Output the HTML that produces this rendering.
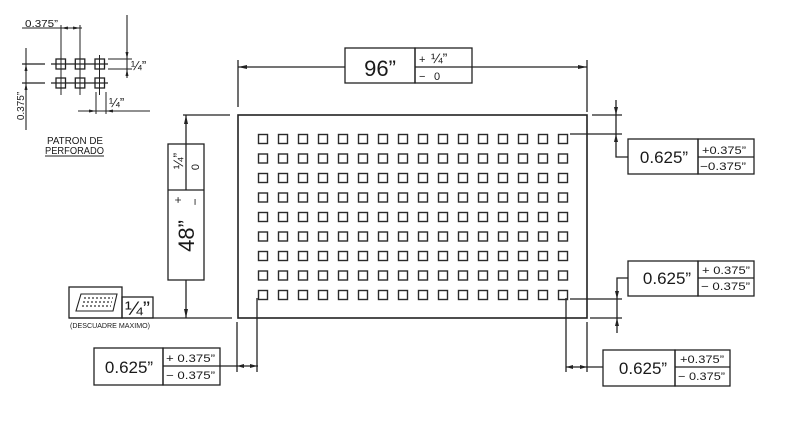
<!DOCTYPE html>
<html><head><meta charset="utf-8"><style>
html,body{margin:0;padding:0;background:#fff;}
svg{display:block;}
text{font-family:"Liberation Sans",sans-serif;fill:#1a1a1a;}
</style></head><body>
<svg width="800" height="446" viewBox="0 0 800 446" xmlns="http://www.w3.org/2000/svg">
<rect width="800" height="446" fill="#fff"/>
<g stroke="#222" stroke-width="1.3" fill="none">
<rect x="238" y="115" width="349" height="203" stroke-width="1.6"/>
<line x1="238" y1="60" x2="238" y2="107"/>
<line x1="587" y1="60" x2="587" y2="112"/>
<line x1="238" y1="67" x2="345" y2="67"/>
<line x1="472" y1="67" x2="587" y2="67"/>
<rect x="345" y="48" width="70" height="35"/>
<rect x="415" y="48" width="57" height="35"/>
<line x1="415" y1="67" x2="472" y2="67"/>
<line x1="183" y1="115" x2="230" y2="115"/>
<line x1="69" y1="318" x2="232" y2="318"/>
<line x1="186" y1="115" x2="186" y2="144"/>
<line x1="186" y1="280" x2="186" y2="318"/>
<rect x="168" y="144" width="36" height="136"/>
<line x1="168" y1="190" x2="204" y2="190"/>
<line x1="186" y1="144" x2="186" y2="190"/>
<line x1="592" y1="115" x2="622" y2="115"/>
<line x1="570" y1="134" x2="622" y2="134"/>
<polyline points="616,100 616,157 628,157"/>
<rect x="628" y="139" width="70" height="35"/>
<rect x="698" y="139" width="56" height="35"/>
<line x1="698" y1="157" x2="754" y2="157"/>
<line x1="570" y1="299" x2="622" y2="299"/>
<line x1="590" y1="318" x2="622" y2="318"/>
<polyline points="628,278 617,278 617,333"/>
<rect x="628" y="261" width="70" height="35"/>
<rect x="698" y="261" width="56" height="35"/>
<line x1="698" y1="278" x2="754" y2="278"/>
<line x1="237" y1="322" x2="237" y2="372"/>
<line x1="257" y1="298" x2="257" y2="372"/>
<line x1="220" y1="366" x2="258" y2="366"/>
<rect x="94" y="348" width="69" height="37"/>
<rect x="163" y="348" width="57" height="37"/>
<line x1="163" y1="366" x2="220" y2="366"/>
<line x1="566" y1="298" x2="566" y2="372"/>
<line x1="587" y1="322" x2="587" y2="372"/>
<line x1="566" y1="367" x2="603" y2="367"/>
<rect x="603" y="350" width="72" height="36"/>
<rect x="675" y="350" width="55" height="36"/>
<line x1="675" y1="367" x2="730" y2="367"/>
<rect x="69" y="287" width="53" height="31"/>
<rect x="122" y="297" width="31" height="21"/>
<polygon points="81,294 117,294 113,311 76,311" stroke-width="1.1"/>
<line x1="22" y1="28" x2="82" y2="28" stroke-width="1.1"/>
<line x1="61" y1="25" x2="61" y2="95" stroke-width="1"/>
<line x1="80" y1="25" x2="80" y2="95" stroke-width="1"/>
<line x1="99.5" y1="55" x2="99.5" y2="95" stroke-width="1"/>
<line x1="22" y1="64" x2="45" y2="64"/>
<line x1="51" y1="64" x2="108" y2="64"/>
<line x1="22" y1="83" x2="45" y2="83"/>
<line x1="51" y1="83" x2="108" y2="83"/>
<line x1="26" y1="48" x2="26" y2="130" stroke-width="1.1"/>
<line x1="108" y1="59" x2="132" y2="59" stroke-width="1"/>
<line x1="108" y1="69" x2="132" y2="69" stroke-width="1"/>
<line x1="127" y1="15" x2="127" y2="78" stroke-width="1.1"/>
<line x1="78" y1="111" x2="150" y2="111" stroke-width="1.1"/>
<line x1="96" y1="92" x2="96" y2="114" stroke-width="1"/>
<line x1="106" y1="92" x2="106" y2="114" stroke-width="1"/>
<line x1="45" y1="156" x2="104" y2="156" stroke-width="1"/>
<g stroke-width="1.3">
<rect x="56" y="59" width="9.5" height="10"/>
<rect x="75.3" y="59" width="9.5" height="10"/>
<rect x="95" y="59" width="9.5" height="10"/>
<rect x="56" y="78" width="9.5" height="10"/>
<rect x="75.3" y="78" width="9.5" height="10"/>
<rect x="95" y="78" width="9.5" height="10"/>
</g>
</g>
<g fill="#222">
<polygon points="238,67 247,65 247,69"/>
<polygon points="587,67 578,65 578,69"/>
<polygon points="186,115 184,124 188,124"/>
<polygon points="186,318 184,309 188,309"/>
<polygon points="616,115 614,107 618,107"/>
<polygon points="616,134 614,142 618,142"/>
<polygon points="617,299 615,291 619,291"/>
<polygon points="617,318 615,326 619,326"/>
<polygon points="237,366 244,364 244,368"/>
<polygon points="257,366 250,364 250,368"/>
<polygon points="566,367 573,365 573,369"/>
<polygon points="587,367 580,365 580,369"/>
<polygon points="61,28 68,26.5 68,29.5"/>
<polygon points="80,28 73,26.5 73,29.5"/>
<polygon points="26,64 24.5,71 27.5,71"/>
<polygon points="26,83 24.5,90 27.5,90"/>
<polygon points="127,59 125.5,52 128.5,52"/>
<polygon points="127,69 125.5,76 128.5,76"/>
<polygon points="96,111 89,109.5 89,112.5"/>
<polygon points="106,111 113,109.5 113,112.5"/>
</g>
<g stroke="#333" stroke-width="1.2" stroke-dasharray="2,2">
<line x1="84" y1="298" x2="113" y2="298"/>
<line x1="83" y1="302" x2="112" y2="302"/>
<line x1="82" y1="306" x2="111" y2="306"/>
</g>
<g stroke="#2a2a2a" stroke-width="1.4" fill="none">
<rect x="258.5" y="134.5" width="9" height="9"/><rect x="278.5" y="134.5" width="9" height="9"/><rect x="298.5" y="134.5" width="9" height="9"/><rect x="318.5" y="134.5" width="9" height="9"/><rect x="338.5" y="134.5" width="9" height="9"/><rect x="358.5" y="134.5" width="9" height="9"/><rect x="378.5" y="134.5" width="9" height="9"/><rect x="398.5" y="134.5" width="9" height="9"/><rect x="418.5" y="134.5" width="9" height="9"/><rect x="438.5" y="134.5" width="9" height="9"/><rect x="458.5" y="134.5" width="9" height="9"/><rect x="478.5" y="134.5" width="9" height="9"/><rect x="498.5" y="134.5" width="9" height="9"/><rect x="518.5" y="134.5" width="9" height="9"/><rect x="538.5" y="134.5" width="9" height="9"/><rect x="558.5" y="134.5" width="9" height="9"/>
<rect x="258.5" y="154" width="9" height="9"/><rect x="278.5" y="154" width="9" height="9"/><rect x="298.5" y="154" width="9" height="9"/><rect x="318.5" y="154" width="9" height="9"/><rect x="338.5" y="154" width="9" height="9"/><rect x="358.5" y="154" width="9" height="9"/><rect x="378.5" y="154" width="9" height="9"/><rect x="398.5" y="154" width="9" height="9"/><rect x="418.5" y="154" width="9" height="9"/><rect x="438.5" y="154" width="9" height="9"/><rect x="458.5" y="154" width="9" height="9"/><rect x="478.5" y="154" width="9" height="9"/><rect x="498.5" y="154" width="9" height="9"/><rect x="518.5" y="154" width="9" height="9"/><rect x="538.5" y="154" width="9" height="9"/><rect x="558.5" y="154" width="9" height="9"/>
<rect x="258.5" y="173.5" width="9" height="9"/><rect x="278.5" y="173.5" width="9" height="9"/><rect x="298.5" y="173.5" width="9" height="9"/><rect x="318.5" y="173.5" width="9" height="9"/><rect x="338.5" y="173.5" width="9" height="9"/><rect x="358.5" y="173.5" width="9" height="9"/><rect x="378.5" y="173.5" width="9" height="9"/><rect x="398.5" y="173.5" width="9" height="9"/><rect x="418.5" y="173.5" width="9" height="9"/><rect x="438.5" y="173.5" width="9" height="9"/><rect x="458.5" y="173.5" width="9" height="9"/><rect x="478.5" y="173.5" width="9" height="9"/><rect x="498.5" y="173.5" width="9" height="9"/><rect x="518.5" y="173.5" width="9" height="9"/><rect x="538.5" y="173.5" width="9" height="9"/><rect x="558.5" y="173.5" width="9" height="9"/>
<rect x="258.5" y="193" width="9" height="9"/><rect x="278.5" y="193" width="9" height="9"/><rect x="298.5" y="193" width="9" height="9"/><rect x="318.5" y="193" width="9" height="9"/><rect x="338.5" y="193" width="9" height="9"/><rect x="358.5" y="193" width="9" height="9"/><rect x="378.5" y="193" width="9" height="9"/><rect x="398.5" y="193" width="9" height="9"/><rect x="418.5" y="193" width="9" height="9"/><rect x="438.5" y="193" width="9" height="9"/><rect x="458.5" y="193" width="9" height="9"/><rect x="478.5" y="193" width="9" height="9"/><rect x="498.5" y="193" width="9" height="9"/><rect x="518.5" y="193" width="9" height="9"/><rect x="538.5" y="193" width="9" height="9"/><rect x="558.5" y="193" width="9" height="9"/>
<rect x="258.5" y="212.5" width="9" height="9"/><rect x="278.5" y="212.5" width="9" height="9"/><rect x="298.5" y="212.5" width="9" height="9"/><rect x="318.5" y="212.5" width="9" height="9"/><rect x="338.5" y="212.5" width="9" height="9"/><rect x="358.5" y="212.5" width="9" height="9"/><rect x="378.5" y="212.5" width="9" height="9"/><rect x="398.5" y="212.5" width="9" height="9"/><rect x="418.5" y="212.5" width="9" height="9"/><rect x="438.5" y="212.5" width="9" height="9"/><rect x="458.5" y="212.5" width="9" height="9"/><rect x="478.5" y="212.5" width="9" height="9"/><rect x="498.5" y="212.5" width="9" height="9"/><rect x="518.5" y="212.5" width="9" height="9"/><rect x="538.5" y="212.5" width="9" height="9"/><rect x="558.5" y="212.5" width="9" height="9"/>
<rect x="258.5" y="232" width="9" height="9"/><rect x="278.5" y="232" width="9" height="9"/><rect x="298.5" y="232" width="9" height="9"/><rect x="318.5" y="232" width="9" height="9"/><rect x="338.5" y="232" width="9" height="9"/><rect x="358.5" y="232" width="9" height="9"/><rect x="378.5" y="232" width="9" height="9"/><rect x="398.5" y="232" width="9" height="9"/><rect x="418.5" y="232" width="9" height="9"/><rect x="438.5" y="232" width="9" height="9"/><rect x="458.5" y="232" width="9" height="9"/><rect x="478.5" y="232" width="9" height="9"/><rect x="498.5" y="232" width="9" height="9"/><rect x="518.5" y="232" width="9" height="9"/><rect x="538.5" y="232" width="9" height="9"/><rect x="558.5" y="232" width="9" height="9"/>
<rect x="258.5" y="251.5" width="9" height="9"/><rect x="278.5" y="251.5" width="9" height="9"/><rect x="298.5" y="251.5" width="9" height="9"/><rect x="318.5" y="251.5" width="9" height="9"/><rect x="338.5" y="251.5" width="9" height="9"/><rect x="358.5" y="251.5" width="9" height="9"/><rect x="378.5" y="251.5" width="9" height="9"/><rect x="398.5" y="251.5" width="9" height="9"/><rect x="418.5" y="251.5" width="9" height="9"/><rect x="438.5" y="251.5" width="9" height="9"/><rect x="458.5" y="251.5" width="9" height="9"/><rect x="478.5" y="251.5" width="9" height="9"/><rect x="498.5" y="251.5" width="9" height="9"/><rect x="518.5" y="251.5" width="9" height="9"/><rect x="538.5" y="251.5" width="9" height="9"/><rect x="558.5" y="251.5" width="9" height="9"/>
<rect x="258.5" y="271" width="9" height="9"/><rect x="278.5" y="271" width="9" height="9"/><rect x="298.5" y="271" width="9" height="9"/><rect x="318.5" y="271" width="9" height="9"/><rect x="338.5" y="271" width="9" height="9"/><rect x="358.5" y="271" width="9" height="9"/><rect x="378.5" y="271" width="9" height="9"/><rect x="398.5" y="271" width="9" height="9"/><rect x="418.5" y="271" width="9" height="9"/><rect x="438.5" y="271" width="9" height="9"/><rect x="458.5" y="271" width="9" height="9"/><rect x="478.5" y="271" width="9" height="9"/><rect x="498.5" y="271" width="9" height="9"/><rect x="518.5" y="271" width="9" height="9"/><rect x="538.5" y="271" width="9" height="9"/><rect x="558.5" y="271" width="9" height="9"/>
<rect x="258.5" y="290.5" width="9" height="9"/><rect x="278.5" y="290.5" width="9" height="9"/><rect x="298.5" y="290.5" width="9" height="9"/><rect x="318.5" y="290.5" width="9" height="9"/><rect x="338.5" y="290.5" width="9" height="9"/><rect x="358.5" y="290.5" width="9" height="9"/><rect x="378.5" y="290.5" width="9" height="9"/><rect x="398.5" y="290.5" width="9" height="9"/><rect x="418.5" y="290.5" width="9" height="9"/><rect x="438.5" y="290.5" width="9" height="9"/><rect x="458.5" y="290.5" width="9" height="9"/><rect x="478.5" y="290.5" width="9" height="9"/><rect x="498.5" y="290.5" width="9" height="9"/><rect x="518.5" y="290.5" width="9" height="9"/><rect x="538.5" y="290.5" width="9" height="9"/><rect x="558.5" y="290.5" width="9" height="9"/>
</g>
<text x="380" y="76" font-size="22" text-anchor="middle">96”</text>
<text x="419" y="63" font-size="11">+</text>
<text x="431" y="63" font-size="14">¼”</text>
<text x="419" y="80" font-size="11">−</text>
<text x="434" y="80" font-size="11">0</text>

<text transform="translate(194,236) rotate(-90)" font-size="22" text-anchor="middle">48”</text>
<text transform="translate(182,200) rotate(-90)" font-size="12" text-anchor="middle">+</text>
<text transform="translate(183,161) rotate(-90)" font-size="14" text-anchor="middle">¼”</text>
<text transform="translate(199,202) rotate(-90)" font-size="12" text-anchor="middle">−</text>
<text transform="translate(199,167) rotate(-90)" font-size="11" text-anchor="middle">0</text>

<text x="664" y="163" font-size="17" text-anchor="middle">0.625”</text>
<text x="702" y="154" font-size="11" textLength="44" lengthAdjust="spacingAndGlyphs">+0.375”</text>
<text x="700" y="170" font-size="11" textLength="46" lengthAdjust="spacingAndGlyphs">−0.375”</text>

<text x="667" y="284" font-size="17" text-anchor="middle">0.625”</text>
<text x="702" y="274" font-size="11" textLength="48" lengthAdjust="spacingAndGlyphs">+ 0.375”</text>
<text x="701" y="290" font-size="11" textLength="49" lengthAdjust="spacingAndGlyphs">− 0.375”</text>

<text x="129" y="373" font-size="17" text-anchor="middle">0.625”</text>
<text x="166" y="362" font-size="11" textLength="49" lengthAdjust="spacingAndGlyphs">+ 0.375”</text>
<text x="166" y="379" font-size="11" textLength="49" lengthAdjust="spacingAndGlyphs">− 0.375”</text>

<text x="643" y="374" font-size="17" text-anchor="middle">0.625”</text>
<text x="680" y="363" font-size="11" textLength="44" lengthAdjust="spacingAndGlyphs">+0.375”</text>
<text x="678" y="380" font-size="11" textLength="47" lengthAdjust="spacingAndGlyphs">− 0.375”</text>

<text x="125" y="315" font-size="19" textLength="25" lengthAdjust="spacingAndGlyphs">¼”</text>
<text x="70" y="328" font-size="7" textLength="80" lengthAdjust="spacingAndGlyphs">(DESCUADRE MAXIMO)</text>

<text x="25" y="27" font-size="10" textLength="33" lengthAdjust="spacingAndGlyphs">0.375”</text>
<text x="131" y="70" font-size="13">¼”</text>
<text x="109" y="107" font-size="13">¼”</text>
<text transform="translate(24,106) rotate(-90)" font-size="10" text-anchor="middle">0.375”</text>
<text x="47" y="144" font-size="10" textLength="56" lengthAdjust="spacingAndGlyphs">PATRON DE</text>
<text x="45" y="154" font-size="10" textLength="59" lengthAdjust="spacingAndGlyphs">PERFORADO</text>
</svg>
</body></html>
